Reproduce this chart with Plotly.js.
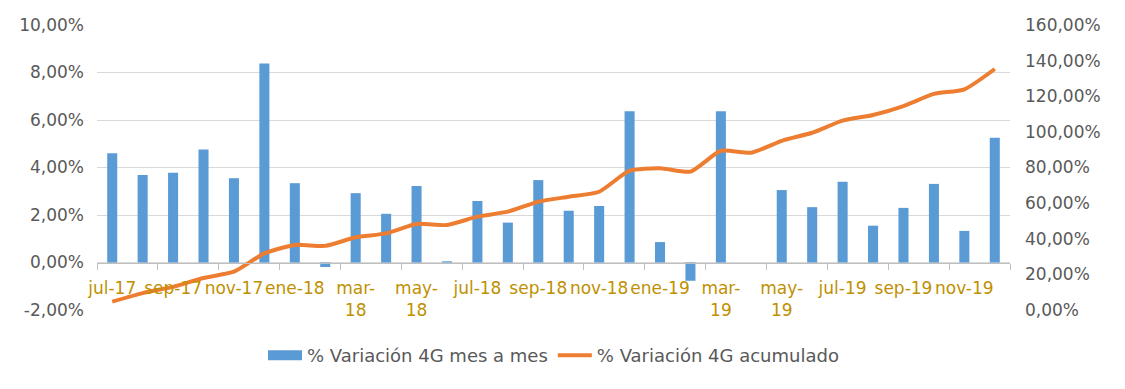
<!DOCTYPE html>
<html>
<head>
<meta charset="utf-8">
<script src="https://cdn.plot.ly/plotly-3.0.1.min.js"></script>
<style>html,body{margin:0;padding:0;background:#fff;}#chart{width:1125px;height:389px;}</style>
</head>
<body>
<div id="chart"></div>
<script>
const months = ['jul-17','ago-17','sep-17','oct-17','nov-17','dic-17','ene-18','feb-18','mar-18','abr-18','may-18','jun-18',
  'jul-18','ago-18','sep-18','oct-18','nov-18','dic-18','ene-19','feb-19','mar-19','abr-19','may-19','jun-19',
  'jul-19','ago-19','sep-19','oct-19','nov-19','dic-19'];
const monthly = [4.60,3.68,3.78,4.76,3.55,8.38,3.34,-0.19,2.92,2.05,3.22,0.05,
  2.59,1.68,3.47,2.18,2.38,6.37,0.86,-0.77,6.37,0.00,3.05,2.33,
  3.40,1.55,2.30,3.31,1.33,5.25];
const cumulative = [4.7,9.5,13.0,18.0,21.5,31.8,36.5,36.0,40.8,43.0,48.3,47.7,
  52.4,55.2,60.8,63.6,66.4,78.2,79.6,77.7,89.4,88.3,95.0,99.5,
  106.3,109.5,114.5,121.3,123.9,135.3];
const tickLabels = ['jul-17','sep-17','nov-17','ene-18','mar-<br>18','may-<br>18','jul-18','sep-18','nov-18','ene-19','mar-<br>19','may-<br>19','jul-19','sep-19','nov-19'];
const leftTicks = [-2,0,2,4,6,8,10];
const rightTicks = [0,20,40,60,80,100,120,140,160];
const seriesNames = ['% Variación 4G mes a mes','% Variación 4G acumulado'];

const fmt = v => v.toFixed(2).replace('.', ',') + '%';
const idx = months.map((m,i)=>i);
const labelPos = idx.filter(i=>i%2===0);
const boundaryPos = idx.filter(i=>i%2===0).map(i=>i-0.5).concat([months.length-0.5]);
const FONT = '"DejaVu Sans", sans-serif';
const xr = [-0.5, months.length-0.5];
const BLUE = '#5B9BD5', ORANGE = '#ED7D31';

const traces = [
  {type:'bar', x:idx, y:monthly, name:seriesNames[0], marker:{color:BLUE}, yaxis:'y', xaxis:'x', showlegend:false},
  // legend swatch for the bars (wide rectangle, as in the original)
  {type:'scatter', mode:'lines', x:[null], y:[null], name:seriesNames[0], line:{color:BLUE, width:10}, yaxis:'y', xaxis:'x', legendrank:1},
  {type:'scatter', mode:'lines', x:idx, y:cumulative, name:seriesNames[1], line:{color:ORANGE, width:4, shape:'spline', smoothing:0.6}, yaxis:'y2', xaxis:'x', legendrank:2},
  {type:'scatter', x:[0], y:[0], xaxis:'x2', yaxis:'y', mode:'markers', marker:{opacity:0}, showlegend:false, hoverinfo:'skip'}
];

const layout = {
  width:1125, height:389,
  margin:{l:97, r:115, t:25, b:79},
  paper_bgcolor:'#fff', plot_bgcolor:'#fff',
  font:{family:FONT, size:17, color:'#595959'},
  bargap:0.67,
  showlegend:true,
  legend:{orientation:'h', x:0.5, xanchor:'center', y:-0.16, yanchor:'middle', font:{size:18, color:'#595959'}, itemwidth:34, tracegroupgap:0},
  xaxis:{range:xr, tickvals:labelPos, ticktext:tickLabels, tickangle:0, ticks:'', showgrid:false, zeroline:false,
    anchor:'free', position:1/6, showline:true, linecolor:'#BFBFBF', linewidth:1,
    tickfont:{color:'#BF9000', size:17, family:FONT}, ticklabelstandoff:10},
  xaxis2:{range:xr, overlaying:'x', anchor:'free', position:1/6, tickvals:boundaryPos, ticks:'outside', ticklen:6,
    tickcolor:'#BFBFBF', showticklabels:false, showgrid:false, zeroline:false, showline:false, side:'bottom'},
  yaxis:{range:[-2,10], tickvals:leftTicks, ticktext:leftTicks.map(fmt), showgrid:true, gridcolor:'#D9D9D9', gridwidth:1,
    zeroline:false, showline:false, tickfont:{color:'#595959', size:17}, ticklabelstandoff:12},
  yaxis2:{range:[0,160], tickvals:rightTicks, ticktext:rightTicks.map(fmt), overlaying:'y', side:'right', showgrid:false,
    zeroline:false, showline:false, tickfont:{color:'#595959', size:17}, ticklabelstandoff:14}
};

Plotly.newPlot('chart', traces, layout, {displayModeBar:false, staticPlot:true});
</script>
</body>
</html>
